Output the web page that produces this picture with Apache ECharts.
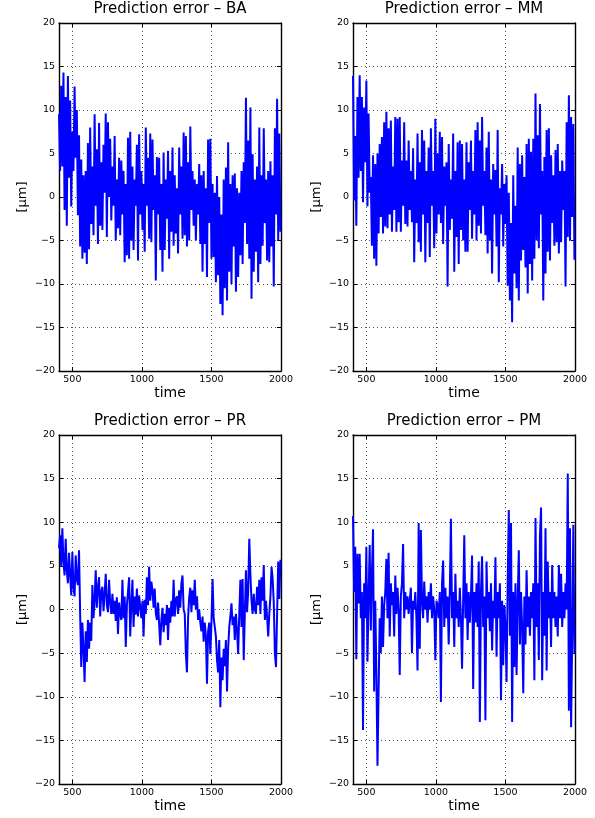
<!DOCTYPE html>
<html><head><meta charset="utf-8">
<script src="https://cdn.jsdelivr.net/npm/echarts@6/dist/echarts.min.js"></script>
<style>html,body{margin:0;padding:0;background:#fff}#c{width:595px;height:818px}</style>
</head><body><div id="c"></div>
<script>
// sampling of the time axis
const tStart = 404;
const tStep = 8;
const xMin = 404, xMax = 2000;
const xTicks = [500, 1000, 1500, 2000];
const yMin = -20, yMax = 20, yStep = 5;

const panelTitles = ['Prediction error \u2013 BA', 'Prediction error \u2013 MM', 'Prediction error \u2013 PR', 'Prediction error \u2013 PM'];
const xLabel = 'time';
const yLabel = '[\u03bcm]';

const baValues = [
9.5,3.0,12.8,3.5,14.3,-1.5,11.5,-3.3,13.9,2.2,
11.1,-1.1,7.5,3.0,12.7,4.5,10.0,-2.1,7.1,-5.7,
4.3,-7.1,2.5,-6.4,3.0,-7.7,6.2,-6.0,8.0,-3.1,
3.5,-4.4,9.5,-1.0,5.5,-5.4,8.5,-3.3,4.0,-3.8,
6.0,0.5,9.6,-4.6,8.6,0.0,6.7,-2.7,3.5,-1.0,
7.0,-5.0,2.0,-3.6,4.5,-4.4,4.2,-2.0,3.0,-7.5,
1.5,-6.7,6.8,-7.1,7.5,-5.0,3.5,-6.1,2.0,-1.0,
6.0,-7.3,7.2,-2.0,3.0,-3.8,1.5,-6.3,8.0,-1.0,
4.5,-4.8,7.3,-5.2,6.6,-1.5,2.5,-9.6,4.6,-2.0,
4.5,-6.1,1.5,-8.6,5.1,-6.1,2.0,-2.5,5.3,-7.1,
3.0,-4.0,5.7,-5.6,2.5,-4.2,1.0,-6.5,5.7,-2.0,
3.5,-4.8,7.4,-4.4,7.0,-5.7,4.0,-5.0,8.1,-1.5,
3.0,-3.3,2.0,-5.0,1.5,-2.0,3.8,-5.4,2.5,-8.6,
3.0,-5.4,1.0,-9.2,6.6,-3.0,6.7,-7.1,1.5,-6.9,
0.5,-9.8,2.4,-9.0,0.0,-12.3,-2.0,-13.6,2.0,-10.5,
3.4,-11.9,6.3,-8.6,1.5,-10.0,2.5,-5.7,2.7,-10.9,
1.0,-9.2,0.5,-6.7,3.0,-7.7,4.0,-3.0,11.4,-5.4,
6.5,-7.1,10.3,-11.7,4.9,-8.6,2.0,-6.3,3.5,-9.8,
8.0,-7.7,2.5,-5.6,7.9,-3.0,2.0,-7.3,3.0,-7.5,
4.1,-5.7,2.5,-10.3,7.9,-2.0,11.3,-5.0,7.3,-4.0
];

const mmValues = [
13.9,-0.4,7.0,-3.3,11.5,2.2,14.0,3.0,11.5,-0.6,
10.3,4.0,13.4,-1.1,9.6,0.5,2.3,-5.6,4.8,-7.1,
3.8,-7.9,5.0,-4.2,6.1,-2.3,6.9,-4.2,8.6,-3.4,
9.8,-3.6,7.9,-2.0,8.8,-4.0,3.5,-1.5,9.2,-4.0,
9.0,-2.9,9.2,-4.0,4.2,-1.0,8.6,-3.1,4.2,-3.4,
6.5,-1.5,3.0,-2.9,5.6,-7.5,2.0,-3.0,7.3,-5.2,
4.0,-6.3,7.7,-2.0,6.5,-7.5,3.0,-3.0,5.7,-6.9,
7.9,-1.0,3.0,-5.9,9.0,-4.2,5.0,-2.0,7.5,-3.0,
6.9,-5.4,3.5,-1.0,4.0,-10.3,6.1,-3.8,2.0,-2.5,
7.3,-8.6,3.0,-4.6,6.3,-7.7,6.5,-3.8,6.1,-5.0,
2.0,-6.3,6.3,-6.3,4.0,-1.5,6.5,-4.8,3.0,-2.0,
7.7,-5.0,8.6,-3.3,6.5,-4.2,9.2,-1.0,3.0,-4.4,
5.7,-6.5,7.5,-5.0,2.0,-8.8,3.8,-2.0,3.1,-5.7,
7.7,-9.8,1.0,-2.0,3.8,-5.7,1.5,-3.1,2.5,-10.2,
0.5,-11.9,-3.0,-14.4,2.5,-8.8,-1.0,-10.5,5.7,-11.9,
3.8,-7.3,4.8,-6.1,2.3,-8.1,6.1,-11.1,6.7,-7.7,
5.2,-9.6,6.7,-7.1,11.9,-5.0,7.1,-5.9,10.7,-2.0,
3.0,-11.9,4.6,-8.8,7.7,-6.3,7.9,-7.3,4.8,-3.0,
2.5,-5.6,5.4,-5.2,6.1,-6.5,3.0,-5.2,4.2,-1.5,
3.0,-10.3,8.6,-4.6,11.7,-5.0,9.2,-2.3,8.4,-7.2
];

const prValues = [
7.0,8.5,5.0,9.3,5.5,3.9,8.1,4.5,3.0,6.5,
4.0,1.6,6.6,2.5,1.5,6.2,3.5,2.8,6.8,-0.5,
-6.6,-1.5,-4.5,-8.3,-2.5,-6.0,-1.2,-4.5,-1.5,-3.6,
2.8,-1.0,1.0,4.5,0.2,2.5,3.7,-0.8,2.0,2.6,
-0.2,1.8,4.1,0.5,-0.3,3.4,0.8,-0.5,1.8,-0.5,
1.0,-1.3,1.4,-2.8,0.8,-0.5,-1.2,3.4,-1.0,1.5,
-4.3,0.5,2.0,3.7,-3.1,0.5,3.4,-2.0,1.5,-0.6,
2.4,-0.8,1.6,1.8,-1.0,1.0,-3.1,1.1,-0.5,3.7,
0.5,4.9,1.0,3.2,2.2,0.2,2.4,-0.4,-1.2,0.8,
1.0,-4.1,-1.2,0.2,-2.6,-0.5,-1.8,0.5,-3.5,0.2,
-1.5,1.0,-0.8,3.4,-0.8,1.2,1.5,-0.5,2.2,0.2,
3.0,3.9,0.0,-0.5,-5.1,-7.2,-1.0,1.4,2.5,-0.3,
2.2,0.5,3.4,0.0,1.5,-1.2,0.0,-1.5,-2.5,-0.8,
-3.7,-1.5,-3.0,-8.5,-2.5,-1.5,-5.1,-1.5,3.5,-1.0,
-2.0,-3.1,-5.8,-7.2,-3.5,-11.2,-5.5,-8.1,-4.5,-6.5,
-3.5,-9.4,-4.5,-2.0,-0.8,0.7,-1.8,-0.8,-3.5,-0.5,
-2.5,-5.1,-0.5,3.4,-2.0,3.5,-5.8,-0.5,4.5,-0.3,
2.0,8.1,4.0,1.0,-0.5,1.8,0.0,-0.5,2.6,0.5,
3.4,-0.5,3.7,1.0,5.1,-1.2,1.0,-0.8,-3.1,-0.5,
1.5,4.9,3.5,0.8,-5.1,-6.6,-0.5,5.5,1.2,5.7
];

const pmValues = [
10.7,2.0,7.2,-5.7,6.4,0.7,6.4,-1.0,2.0,-13.8,
3.0,-1.0,7.2,-6.0,1.5,7.4,-2.4,4.0,9.2,-9.4,
1.0,-7.2,-17.9,-9.3,-1.0,-5.0,1.5,-4.3,0.5,2.0,
5.8,-1.0,6.5,-3.1,3.0,0.5,2.0,-3.1,3.9,-0.5,
2.5,0.0,-7.5,1.5,3.0,7.5,-1.0,2.0,0.0,1.5,
-0.5,1.0,2.5,-5.0,1.0,0.0,2.0,-1.0,-7.0,9.9,
-4.5,9.1,1.0,-1.0,3.2,0.0,1.5,-1.5,2.0,0.0,
3.0,-1.0,1.5,0.0,-5.8,1.0,0.5,-1.0,2.0,-10.6,
3.0,5.6,-2.0,2.5,-1.0,1.5,-4.0,2.0,10.4,-1.0,
2.0,-4.3,4.1,-1.0,1.0,-2.0,2.5,-1.0,-6.8,1.0,
8.5,-1.0,3.0,-3.5,2.0,-1.5,1.5,6.2,-9.1,2.0,
-1.5,3.0,-2.0,5.5,-12.9,2.0,6.1,-2.0,1.5,-12.7,
5.5,-1.0,2.0,-2.5,3.0,-4.7,1.0,-1.0,6.0,-5.4,
2.0,-1.0,3.0,-10.4,1.0,-6.4,0.5,-2.0,-8.3,3.0,
11.4,-3.0,9.9,-12.9,2.0,-6.6,3.0,-7.5,1.0,6.8,
-4.0,2.0,-2.0,-9.6,1.5,-4.0,4.5,-2.0,1.5,-3.0,
2.0,-1.0,3.0,-8.1,10.5,-2.0,3.0,-5.8,8.4,11.7,
-8.1,2.0,-3.0,9.3,-7.0,5.5,-1.0,2.0,-4.3,5.1,
-1.0,2.0,-2.0,1.5,-3.1,5.1,-1.0,4.1,-2.0,2.0,
-1.0,3.0,0.0,15.6,-11.6,9.3,-13.5,-3.0,9.7,-5.0
];

const panelValues = [baValues, mmValues, prValues, pmValues];

const grids = [
  {left: 59, top: 23, width: 222, height: 348},
  {left: 353, top: 23, width: 222, height: 348},
  {left: 59, top: 435, width: 222, height: 349},
  {left: 353, top: 435, width: 222, height: 349}
];

const FONT = 'DejaVu Sans';
const fmtY = v => String(v).replace('-', '\u2212');
const fmtX = v => String(v);

const xAxes = [], yAxes = [], series = [], graphics = [];
grids.forEach((g, k) => {
  const common = {
    gridIndex: k, type: 'value',
    axisLine: {show: true, onZero: false, lineStyle: {color: '#000', width: 1.4}},
  };
  xAxes.push(Object.assign({}, common, {
    position: 'bottom', min: xMin, max: xMax,
    axisTick: {show: true, inside: true, length: 4, customValues: xTicks, lineStyle: {color: '#000'}},
    axisLabel: {customValues: xTicks, formatter: fmtX, fontFamily: FONT, fontSize: 9.5, color: '#000', margin: 4},
    splitLine: {show: true, lineStyle: {color: '#555', type: [1, 3], width: 1}},
    name: xLabel, nameLocation: 'middle', nameGap: 13,
    nameTextStyle: {fontFamily: FONT, fontSize: 14, color: '#000'}
  }));
  xAxes.push(Object.assign({}, common, {
    position: 'top', min: xMin, max: xMax,
    axisTick: {show: true, inside: true, length: 4, customValues: xTicks, lineStyle: {color: '#000'}},
    axisLabel: {show: false}, splitLine: {show: false}
  }));
  yAxes.push(Object.assign({}, common, {
    position: 'left', min: yMin, max: yMax, interval: yStep,
    axisTick: {show: true, inside: true, length: 4, lineStyle: {color: '#000'}},
    axisLabel: {fontFamily: FONT, fontSize: 9.5, color: '#000', margin: 4, formatter: fmtY},
    splitLine: {show: true, lineStyle: {color: '#555', type: [1, 3], width: 1}},
    name: yLabel, nameLocation: 'middle', nameGap: 30, nameRotate: 90,
    nameTextStyle: {fontFamily: FONT, fontSize: 13, color: '#000'}
  }));
  yAxes.push(Object.assign({}, common, {
    position: 'right', min: yMin, max: yMax, interval: yStep,
    axisTick: {show: true, inside: true, length: 4, lineStyle: {color: '#000'}},
    axisLabel: {show: false}, splitLine: {show: false}
  }));
  const vals = panelValues[k];
  series.push({
    type: 'line', xAxisIndex: 2 * k, yAxisIndex: 2 * k,
    data: vals.map((v, i) => [tStart + i * tStep, v]),
    showSymbol: false, symbol: 'none', animation: false,
    lineStyle: {color: '#0000ff', width: 2.0}, z: 3
  });
  graphics.push({
    type: 'text', x: g.left + g.width / 2, y: k < 2 ? 9 : 421,
    style: {text: panelTitles[k], fontFamily: FONT, fontSize: 15, fill: '#000', textAlign: 'center', textVerticalAlign: 'middle'}
  });
});

const chart = echarts.init(document.getElementById('c'), null, {renderer: 'canvas'});
chart.setOption({
  animation: false,
  backgroundColor: '#fff',
  grid: grids.map(g => Object.assign({containLabel: false}, g)),
  xAxis: xAxes, yAxis: yAxes, series: series, graphic: graphics
});
</script></body></html>
